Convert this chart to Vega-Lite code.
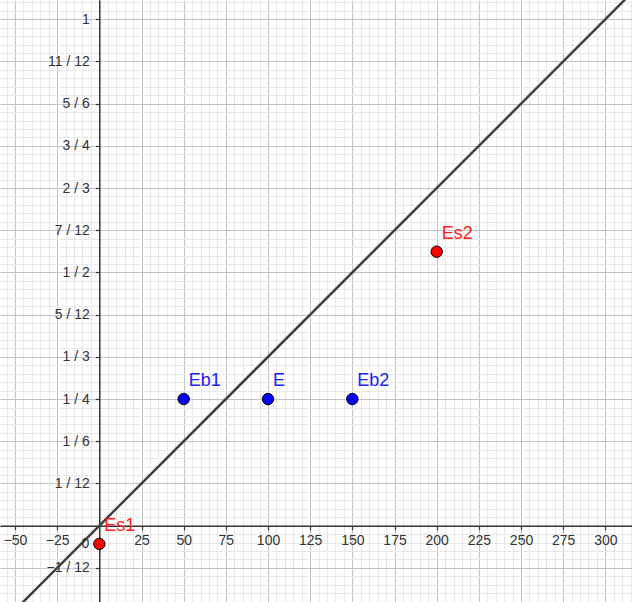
{
  "$schema": "https://vega.github.io/schema/vega-lite/v6.json",
  "autosize": {"type": "fit", "contains": "padding"},
  "width": 632,
  "height": 602,
  "padding": 0,
  "background": "white",
  "config": {"view": {"stroke": null}},
  "datasets": {
    "line": [{"x": -60, "y": -0.2}, {"x": 320, "y": 1.0667}],
    "points": [
      {"name": "Eb1", "x": 50, "y": 0.25, "series": "E"},
      {"name": "E", "x": 100, "y": 0.25, "series": "E"},
      {"name": "Eb2", "x": 150, "y": 0.25, "series": "E"},
      {"name": "Es1", "x": 0, "y": -0.036, "series": "Es"},
      {"name": "Es2", "x": 200, "y": 0.541, "series": "Es"}
    ],
    "origin": [{"x": 0, "y": 0, "label": "0"}]
  },
  "resolve": {"axis": {"x": "independent", "y": "independent"}},
  "layer": [
    {
      "data": {"name": "line"},
      "mark": {"type": "line", "color": "#404040", "strokeWidth": 2.5, "clip": true},
      "encoding": {
        "x": {"field": "x", "type": "quantitative",
              "scale": {"domain": [-58.9, 315.8], "nice": false, "zero": false},
              "axis": {"orient": "bottom", "title": null, "labels": false, "ticks": false, "domain": false,
                       "grid": true, "gridColor": "#e8e8e8", "gridWidth": 1,
                       "values": [-55,-50,-45,-40,-35,-30,-25,-20,-15,-10,-5,0,5,10,15,20,25,30,35,40,45,50,55,60,65,70,75,80,85,90,95,100,105,110,115,120,125,130,135,140,145,150,155,160,165,170,175,180,185,190,195,200,205,210,215,220,225,230,235,240,245,250,255,260,265,270,275,280,285,290,295,300,305,310,315]}},
        "y": {"field": "y", "type": "quantitative",
              "scale": {"domain": [-0.1507, 1.038], "nice": false, "zero": false},
              "axis": {"orient": "left", "title": null, "labels": false, "ticks": false, "domain": false,
                       "grid": true, "gridColor": "#e8e8e8", "gridWidth": 1,
                       "values": [-0.15,-0.13333,-0.11667,-0.1,-0.08333,-0.06667,-0.05,-0.03333,-0.01667,0,0.01667,0.03333,0.05,0.06667,0.08333,0.1,0.11667,0.13333,0.15,0.16667,0.18333,0.2,0.21667,0.23333,0.25,0.26667,0.28333,0.3,0.31667,0.33333,0.35,0.36667,0.38333,0.4,0.41667,0.43333,0.45,0.46667,0.48333,0.5,0.51667,0.53333,0.55,0.56667,0.58333,0.6,0.61667,0.63333,0.65,0.66667,0.68333,0.7,0.71667,0.73333,0.75,0.76667,0.78333,0.8,0.81667,0.83333,0.85,0.86667,0.88333,0.9,0.91667,0.93333,0.95,0.96667,0.98333,1,1.01667,1.03333]}}
      }
    },
    {
      "data": {"name": "points"},
      "mark": {"type": "point", "filled": true, "size": 130, "stroke": "#000000", "strokeWidth": 1, "opacity": 1},
      "encoding": {
        "x": {"field": "x", "type": "quantitative",
              "axis": {"orient": "bottom", "title": null, "labels": false, "ticks": false, "domain": false,
                       "grid": true, "gridColor": "#c4c4c4", "gridWidth": 1,
                       "values": [-50,-25,0,25,50,75,100,125,150,175,200,225,250,275,300]}},
        "y": {"field": "y", "type": "quantitative",
              "axis": {"orient": "left", "title": null, "labels": false, "ticks": false, "domain": false,
                       "grid": true, "gridColor": "#c4c4c4", "gridWidth": 1,
                       "values": [-0.08333,0,0.08333,0.16667,0.25,0.33333,0.41667,0.5,0.58333,0.66667,0.75,0.83333,0.91667,1]}},
        "fill": {"field": "series", "type": "nominal", "scale": {"domain": ["E","Es"], "range": ["#0000ff","#ff0000"]}, "legend": null}
      }
    },
    {
      "data": {"name": "points"},
      "mark": {"type": "text", "align": "left", "baseline": "alphabetic", "dx": 5, "dy": -13, "fontSize": 18, "font": "Liberation Sans"},
      "encoding": {
        "x": {"field": "x", "type": "quantitative",
              "axis": {"orient": "bottom", "offset": -76.3, "title": null, "grid": false,
                       "domain": true, "domainColor": "#333333", "domainWidth": 1.5,
                       "ticks": true, "tickColor": "#333333", "tickSize": 4, "tickWidth": 1.2,
                       "labelFont": "Liberation Sans", "labelFontSize": 14, "labelColor": "#333333", "labelPadding": 4,
                       "values": [-50,-25,25,50,75,100,125,150,175,200,225,250,275,300],
                       "labelExpr": "(datum.value < 0 ? '−' : '') + abs(datum.value)"}},
        "y": {"field": "y", "type": "quantitative",
              "axis": {"orient": "left", "offset": -99.3, "title": null, "grid": false,
                       "domain": true, "domainColor": "#333333", "domainWidth": 1.5,
                       "ticks": true, "tickColor": "#333333", "tickSize": 4, "tickWidth": 1.2,
                       "labelFont": "Liberation Sans", "labelFontSize": 14, "labelColor": "#333333", "labelPadding": 6,
                       "values": [-0.08333,0.08333,0.16667,0.25,0.33333,0.41667,0.5,0.58333,0.66667,0.75,0.83333,0.91667,1],
                       "labelExpr": "['−1 / 12','','1 / 12','1 / 6','1 / 4','1 / 3','5 / 12','1 / 2','7 / 12','2 / 3','3 / 4','5 / 6','11 / 12','1'][round(datum.value*12)+1]"}},
        "text": {"field": "name", "type": "nominal"},
        "color": {"field": "series", "type": "nominal", "scale": {"domain": ["E","Es"], "range": ["#2020ff","#ff2020"]}, "legend": null}
      }
    },
    {
      "data": {"name": "origin"},
      "mark": {"type": "text", "align": "right", "baseline": "top", "dx": -10, "dy": 11, "fontSize": 14, "font": "Liberation Sans", "color": "#333333"},
      "encoding": {
        "x": {"field": "x", "type": "quantitative", "axis": null},
        "y": {"field": "y", "type": "quantitative", "axis": null},
        "text": {"field": "label", "type": "nominal"}
      }
    }
  ]
}
